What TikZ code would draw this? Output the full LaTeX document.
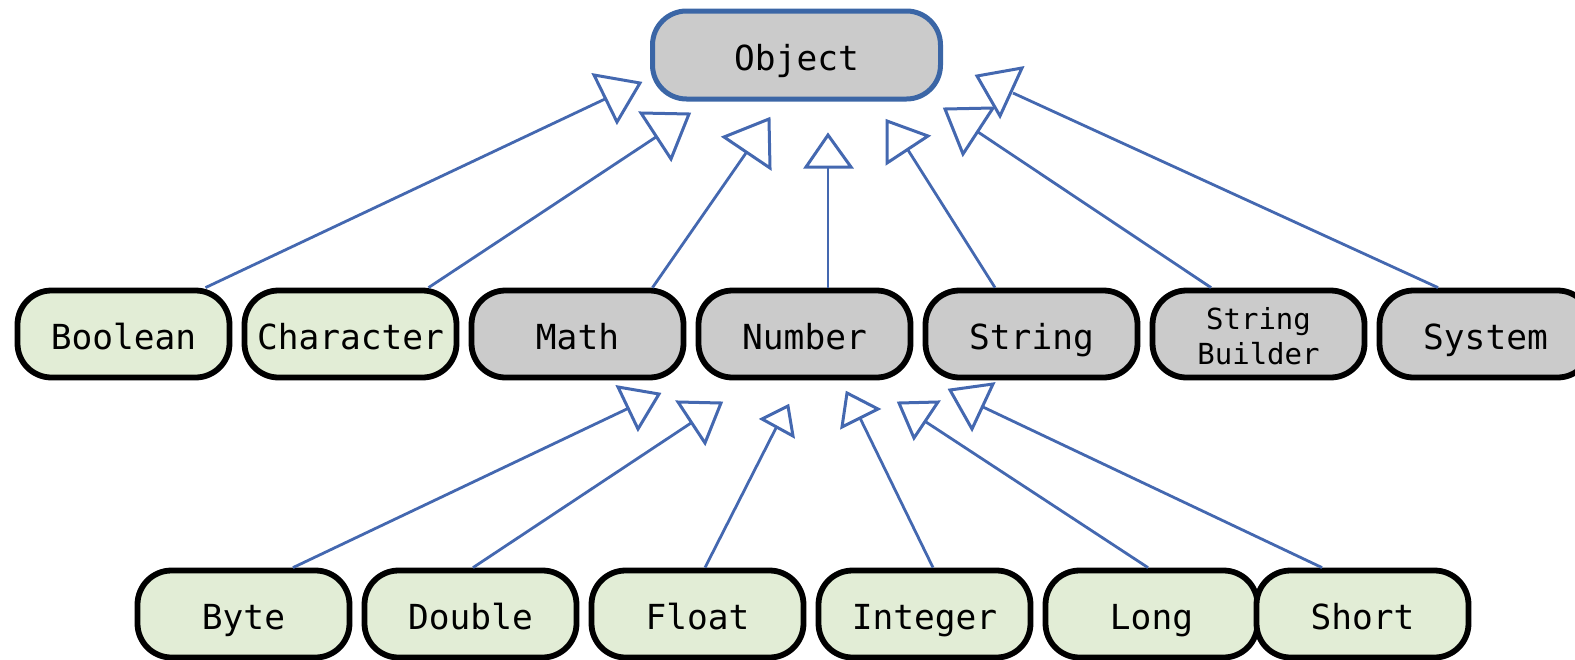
\documentclass[tikz,border=0pt]{standalone}
\usepackage{fontspec}
\newfontfamily\codefont{DejaVu Sans Mono}
\usepackage{xcolor}
\usepackage{tikz}
\definecolor{boxgray}{HTML}{CBCBCB}
\definecolor{boxgreen}{HTML}{E2EDD6}
\definecolor{objblue}{HTML}{3B66A6}
\definecolor{linkblue}{HTML}{4468B0}
\tikzstyle{cls} = [draw=black, line width=5.8pt, rounded corners=34pt, minimum width=212pt, minimum height=87pt, inner sep=0pt, text height=36pt, text depth=6pt, font=\codefont\fontsize{34.5}{36}\selectfont]
\tikzstyle{core} = [cls, fill=boxgray]
\tikzstyle{wrap} = [cls, fill=boxgreen]
\tikzstyle{link} = [linkblue, line width=2.8pt]
\tikzstyle{tri} = [linkblue, line width=3pt, line join=miter]

\begin{document}
\begin{tikzpicture}[x=1pt, y=-1pt]
    \useasboundingbox (0,0) rectangle (1575,659);
    % top
    \node[core, draw=objblue, line width=5pt, minimum width=288pt, minimum height=88pt] (object) at (796.5,55) {Object};
    % middle row
    \node[wrap] (boolean) at (123.5,334) {Boolean};
    \node[wrap] (character) at (350.5,334) {Character};
    \node[core] (math) at (577.5,334) {Math};
    \node[core] (number) at (804.5,334) {Number};
    \node[core] (string) at (1031.5,334) {String};
    \node[core, align=center, text height=62pt, text depth=2pt, font=\codefont\fontsize{29}{35}\selectfont] (sbuilder) at (1258.5,334) {String\\Builder};
    \node[core] (system) at (1485.5,334) {System};
    % bottom row
    \node[wrap] (byte) at (243.5,614) {Byte};
    \node[wrap] (double) at (470.5,614) {Double};
    \node[wrap] (float) at (697.5,614) {Float};
    \node[wrap] (integer) at (924.5,614) {Integer};
    \node[wrap] (long) at (1151.5,614) {Long};
    \node[wrap] (short) at (1362.5,614) {Short};

    % extends Object
    \coordinate (tBoolean) at (605,99);
    \coordinate (tCharacter) at (656,137);
    \coordinate (tMath) at (746,153);
    \coordinate (tNumber) at (828,167);
    \coordinate (tString) at (908,150);
    \coordinate (tBuilder) at (978,132);
    \coordinate (tSystem) at (1013,93);
    \draw[link] ([xshift=82pt]boolean.north) -- (tBoolean);
    \draw[link] ([xshift=78pt]character.north) -- (tCharacter);
    \draw[link] ([xshift=75pt]math.north) -- (tMath);
    \draw[link] ([xshift=23.5pt]number.north) -- (tNumber);
    \draw[link] ([xshift=-36.5pt]string.north) -- (tString);
    \draw[link] ([xshift=-47.5pt]sbuilder.north) -- (tBuilder);
    \draw[link] ([xshift=-47.5pt]system.north) -- (tSystem);
    \draw[tri] (594,75) -- (640,83) -- (617,122) -- cycle;
    \draw[tri] (641,113) -- (689,114) -- (671,159) -- cycle;
    \draw[tri] (724,137) -- (769,119) -- (770,168) -- cycle;
    \draw[tri] (806,167) -- (828,135) -- (851,167) -- cycle;
    \draw[tri] (887,121) -- (928,136) -- (887,163) -- cycle;
    \draw[tri] (945,109) -- (993,108) -- (963,154) -- cycle;
    \draw[tri] (977,76) -- (1022,68) -- (1000,116) -- cycle;

    % extends Number
    \coordinate (tByte) at (629,408);
    \coordinate (tDouble) at (691,423);
    \coordinate (tFloat) at (776,428);
    \coordinate (tInteger) at (860,418);
    \coordinate (tLong) at (926,422);
    \coordinate (tShort) at (983,407);
    \draw[link] ([xshift=49.5pt]byte.north) -- (tByte);
    \draw[link] ([xshift=2.5pt]double.north) -- (tDouble);
    \draw[link] ([xshift=7.5pt]float.north) -- (tFloat);
    \draw[link] ([xshift=8.5pt]integer.north) -- (tInteger);
    \draw[link] ([xshift=-3.5pt]long.north) -- (tLong);
    \draw[link] ([xshift=-40.5pt]short.north) -- (tShort);
    \draw[tri] (618,387) -- (659,394) -- (638,429) -- cycle;
    \draw[tri] (678,402) -- (721,403) -- (705,443) -- cycle;
    \draw[tri] (762,419) -- (788,406) -- (793,436) -- cycle;
    \draw[tri] (847,393) -- (878,409) -- (842,427) -- cycle;
    \draw[tri] (899,403) -- (938,402) -- (914,438) -- cycle;
    \draw[tri] (950,390) -- (993,384) -- (972,429) -- cycle;
\end{tikzpicture}
\end{document}
